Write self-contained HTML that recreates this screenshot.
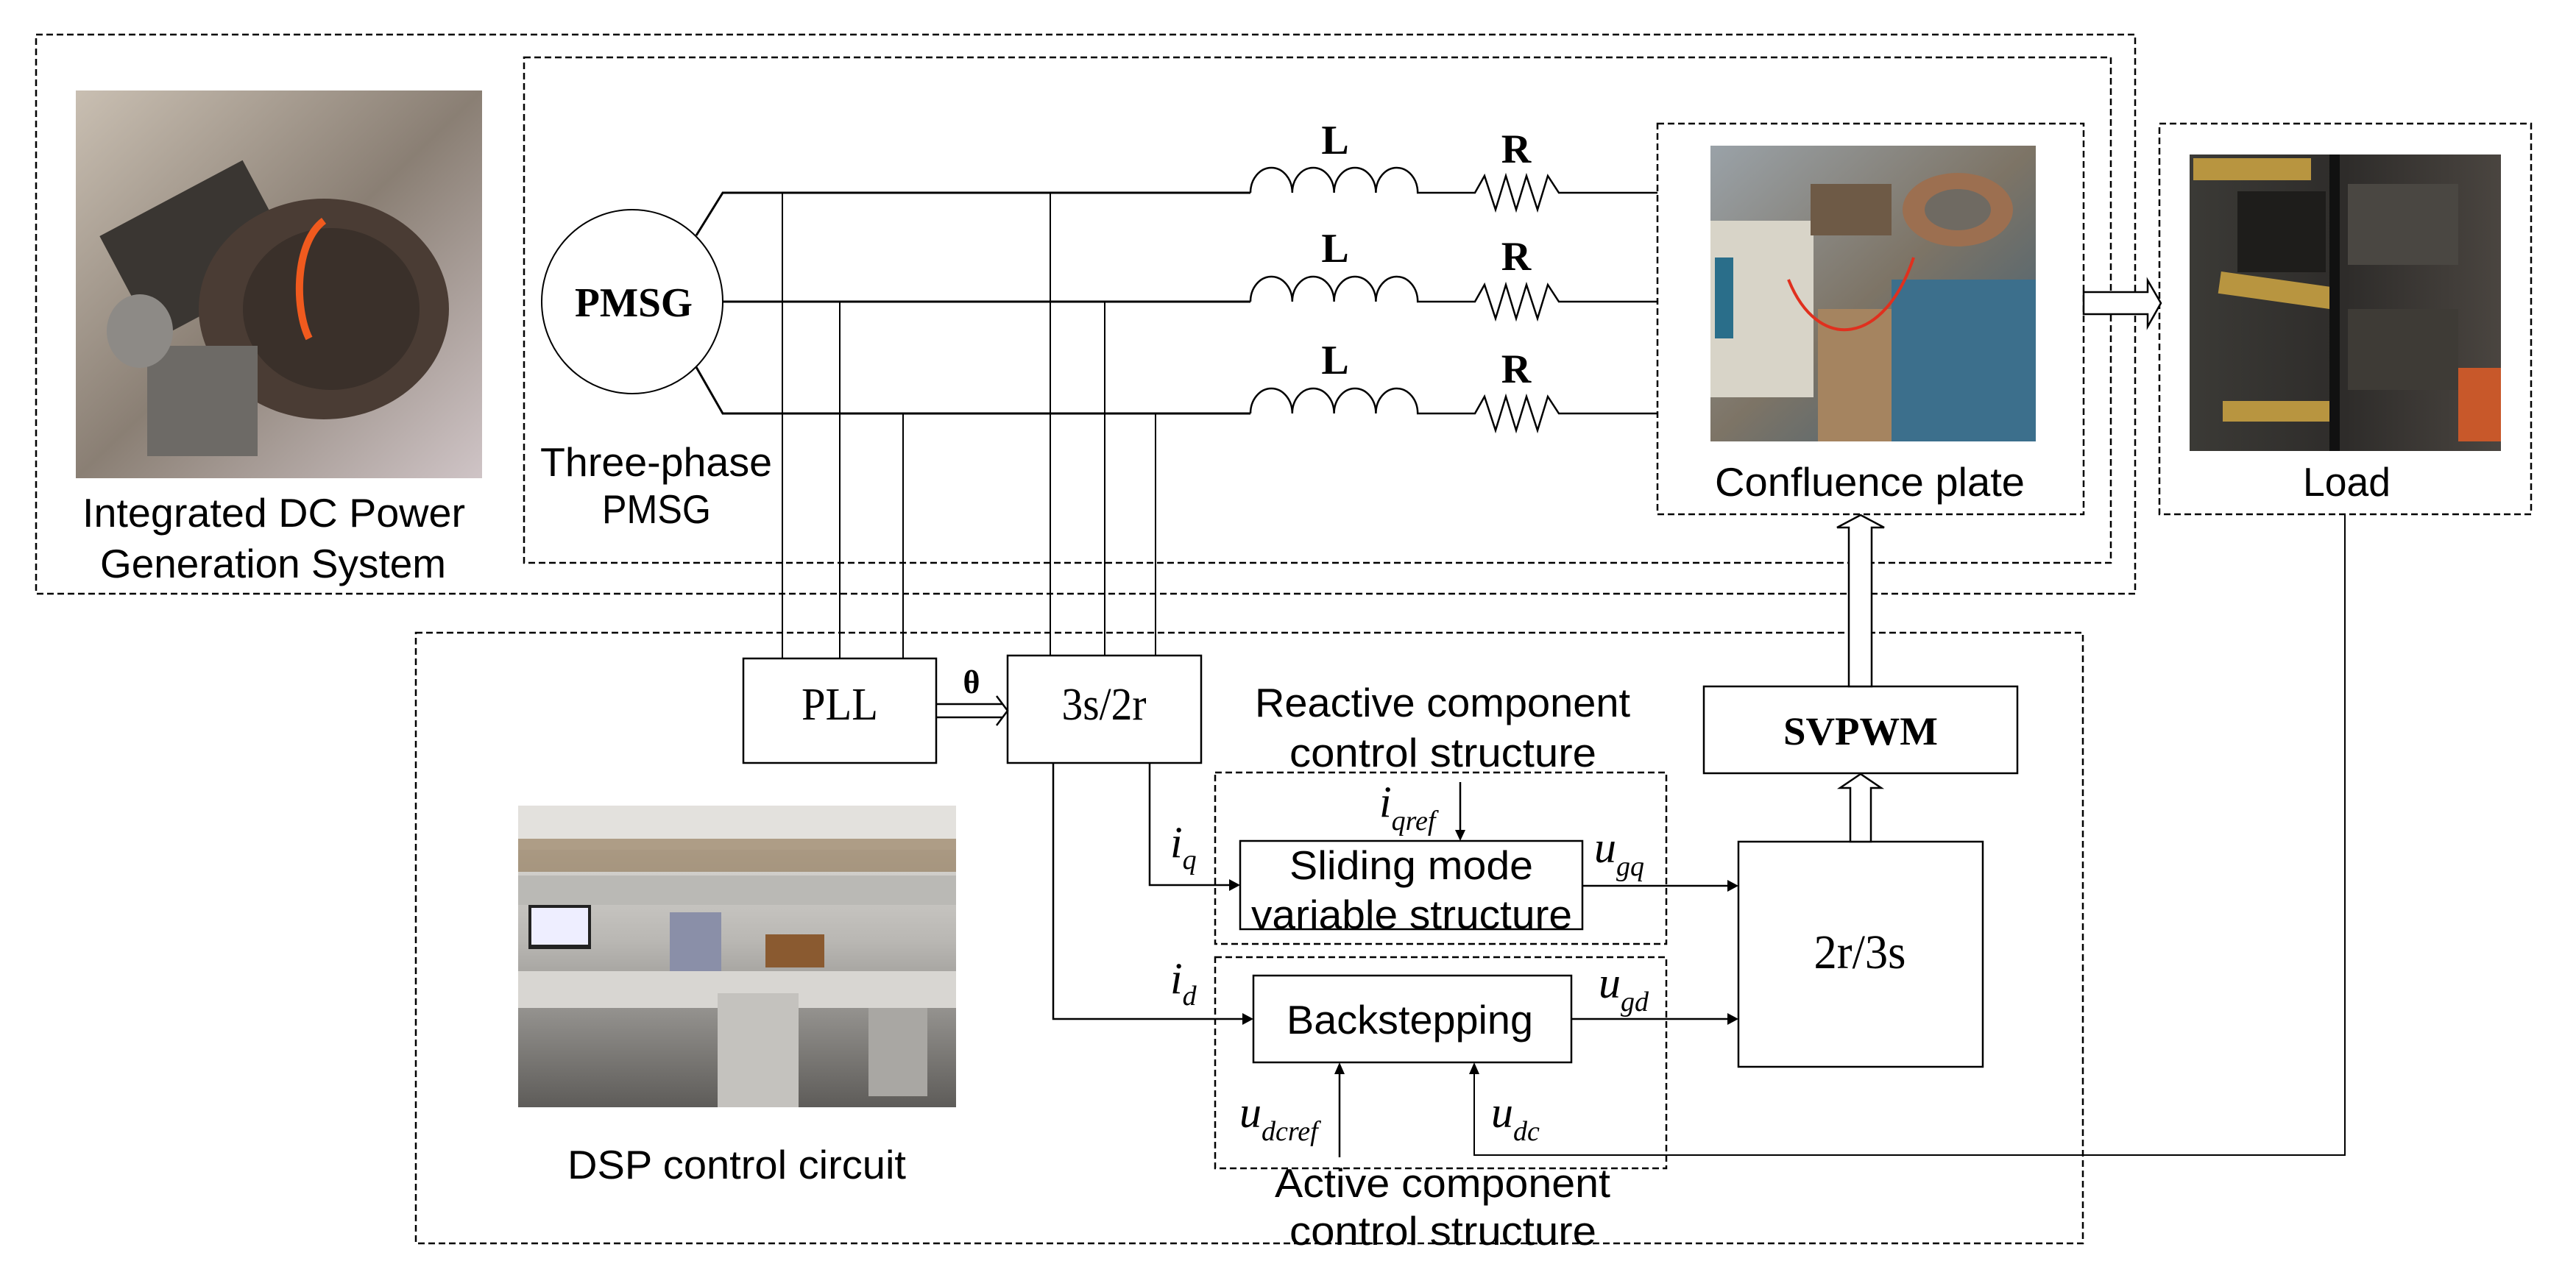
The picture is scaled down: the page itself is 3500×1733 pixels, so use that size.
<!DOCTYPE html>
<html><head><meta charset="utf-8"><style>
html,body{margin:0;padding:0;background:#fff;}
svg{display:block;}
.sans{font-family:"Liberation Sans",sans-serif;font-size:55px;fill:#000;}
.serif{font-family:"Liberation Serif",serif;fill:#000;}
.it{font-family:"Liberation Serif",serif;font-style:italic;fill:#000;}
</style></head><body>
<svg width="3500" height="1733" viewBox="0 0 3500 1733" xmlns="http://www.w3.org/2000/svg">
<defs>
<linearGradient id="eng" x1="0" y1="0" x2="1" y2="1">
<stop offset="0" stop-color="#c9bfb2"/><stop offset="0.5" stop-color="#8a7f74"/><stop offset="1" stop-color="#cfc4c6"/></linearGradient>
<linearGradient id="conf" x1="0" y1="0" x2="1" y2="1">
<stop offset="0" stop-color="#9aa2a8"/><stop offset="0.5" stop-color="#7d7466"/><stop offset="1" stop-color="#3a5e78"/></linearGradient>
<linearGradient id="load" x1="0" y1="0" x2="1" y2="0">
<stop offset="0" stop-color="#3b3a36"/><stop offset="0.5" stop-color="#2e2c2a"/><stop offset="1" stop-color="#4a4540"/></linearGradient>
<linearGradient id="dsp" x1="0" y1="0" x2="0" y2="1">
<stop offset="0" stop-color="#e6e4e0"/><stop offset="0.45" stop-color="#b9b7b3"/><stop offset="1" stop-color="#5e5c59"/></linearGradient>
</defs>

<g fill="none" stroke="#000" stroke-width="2.5" stroke-dasharray="9 5">
<rect x="49" y="47" width="2852" height="760"/>
<rect x="712" y="78" width="2156" height="687"/>
<rect x="2252" y="168" width="579" height="531"/>
<rect x="2934" y="168" width="505" height="531"/>
<rect x="565" y="860" width="2265" height="830"/>
<rect x="1651" y="1050" width="613" height="233"/>
<rect x="1651" y="1301" width="613" height="287"/>
</g>

<rect x="103" y="123" width="552" height="527" fill="url(#eng)"/>
<g>
<rect x="160" y="260" width="220" height="160" fill="#3a3632" transform="rotate(-28 270 340)"/>
<ellipse cx="440" cy="420" rx="170" ry="150" fill="#4a3c34"/>
<ellipse cx="450" cy="420" rx="120" ry="110" fill="#3a302a"/>
<path d="M440 300 C400 330 400 420 420 460" stroke="#f05a1e" stroke-width="10" fill="none"/>
<rect x="200" y="470" width="150" height="150" fill="#6d6a66"/>
<ellipse cx="190" cy="450" rx="45" ry="50" fill="#8d8a86"/>
</g>

<rect x="2324" y="198" width="442" height="402" fill="url(#conf)"/>
<g>
<rect x="2324" y="300" width="140" height="240" fill="#d8d4c8"/>
<rect x="2330" y="350" width="25" height="110" fill="#2a6e8a"/>
<ellipse cx="2660" cy="285" rx="75" ry="50" fill="#9c6f50"/>
<ellipse cx="2660" cy="285" rx="45" ry="28" fill="#6f6a62"/>
<rect x="2460" y="250" width="110" height="70" fill="#6e5a46"/>
<rect x="2570" y="380" width="196" height="220" fill="#3c6f8c"/>
<rect x="2470" y="420" width="100" height="180" fill="#a58460"/>
<path d="M2430 380 C2470 480 2560 470 2600 350" stroke="#e0301e" stroke-width="4" fill="none"/>
</g>

<rect x="2975" y="210" width="423" height="403" fill="url(#load)"/>
<g>
<rect x="2980" y="215" width="160" height="30" fill="#b89540"/>
<rect x="3015" y="380" width="160" height="30" fill="#b89540" transform="rotate(8 3095 395)"/>
<rect x="3020" y="545" width="150" height="28" fill="#b89540"/>
<rect x="3040" y="260" width="120" height="110" fill="#1e1d1b"/>
<rect x="3190" y="250" width="150" height="110" fill="#4a4742"/>
<rect x="3190" y="420" width="150" height="110" fill="#3e3b36"/>
<rect x="3340" y="500" width="58" height="100" fill="#c8582a"/>
<rect x="3165" y="210" width="14" height="403" fill="#111"/>
</g>

<rect x="704" y="1095" width="595" height="410" fill="url(#dsp)"/>
<g>
<rect x="704" y="1095" width="595" height="60" fill="#e3e1dd"/>
<rect x="704" y="1140" width="595" height="45" fill="#8a6f4c" opacity="0.6"/>
<rect x="704" y="1190" width="595" height="40" fill="#bab9b5"/>
<rect x="718" y="1230" width="85" height="60" fill="#222"/>
<rect x="722" y="1234" width="77" height="50" fill="#eef"/>
<rect x="910" y="1240" width="70" height="80" fill="#8a8fa8"/>
<rect x="1040" y="1270" width="80" height="45" fill="#8a5a30"/>
<rect x="704" y="1320" width="595" height="50" fill="#d8d6d2"/>
<rect x="975" y="1350" width="110" height="155" fill="#c4c2be"/>
<rect x="1180" y="1370" width="80" height="120" fill="#a9a7a3"/>
</g>

<ellipse cx="859" cy="410" rx="123" ry="125" fill="none" stroke="#000" stroke-width="2"/>
<text class="serif" x="861" y="430" font-size="56" font-weight="bold" text-anchor="middle" textLength="160" lengthAdjust="spacingAndGlyphs">PMSG</text>
<g fill="none" stroke="#000" stroke-width="3">
<polyline points="946,320 982,262 1699,262"/>
<polyline points="982,410 1699,410"/>
<polyline points="946,499 982,562 1699,562"/>
</g>
<g fill="none" stroke="#000" stroke-width="2.5">
<path id="lr" d="M1699,262 a28.4,34 0 0 1 56.8,0 a28.4,34 0 0 1 56.8,0 a28.4,34 0 0 1 56.8,0 a28.4,34 0 0 1 56.8,0 L2004,262 L2017,239 L2032,285 L2046,239 L2060,285 L2074,239 L2089,285 L2103,239 L2118,262 L2252,262"/>
<use href="#lr" y="148"/>
<use href="#lr" y="300"/>
</g>
<g class="serif" font-size="56" font-weight="bold" text-anchor="middle">
<text x="1814" y="209">L</text><text x="2060" y="221">R</text>
<text x="1814" y="356">L</text><text x="2060" y="367">R</text>
<text x="1814" y="508">L</text><text x="2060" y="520">R</text>
</g>

<g stroke="#000" stroke-width="2">
<line x1="1063" y1="262" x2="1063" y2="895"/>
<line x1="1141" y1="410" x2="1141" y2="895"/>
<line x1="1227" y1="562" x2="1227" y2="895"/>
<line x1="1427" y1="262" x2="1427" y2="891"/>
<line x1="1501" y1="410" x2="1501" y2="891"/>
<line x1="1570" y1="562" x2="1570" y2="891"/>
</g>

<g fill="#fff" stroke="#000" stroke-width="2.5">
<rect x="1010" y="895" width="262" height="142"/>
<rect x="1369" y="891" width="263" height="146"/>
<rect x="2315" y="933" width="426" height="118"/>
<rect x="2362" y="1144" width="332" height="306"/>
<rect x="1685" y="1143" width="465" height="120"/>
<rect x="1703" y="1326" width="432" height="118"/>
</g>
<text class="serif" x="1141" y="978" font-size="62" text-anchor="middle" textLength="104" lengthAdjust="spacingAndGlyphs">PLL</text>
<text class="serif" x="1500" y="978" font-size="62" text-anchor="middle" textLength="115" lengthAdjust="spacingAndGlyphs">3s/2r</text>
<text class="serif" x="2528" y="1012" font-size="54" font-weight="bold" text-anchor="middle" textLength="210" lengthAdjust="spacingAndGlyphs">SVPWM</text>
<text class="serif" x="2527" y="1316" font-size="66" text-anchor="middle" textLength="125" lengthAdjust="spacingAndGlyphs">2r/3s</text>

<g fill="none" stroke="#000" stroke-width="2.5">
<line x1="1272" y1="957" x2="1362" y2="957"/>
<line x1="1272" y1="975" x2="1362" y2="975"/>
<polyline points="1354,946 1369,966 1354,986"/>
</g>
<text class="serif" x="1320" y="942" font-size="44" font-weight="bold" text-anchor="middle">θ</text>

<g fill="#fff" stroke="#000" stroke-width="2.5">
<polygon points="2514,1144 2514,1071 2500,1071 2528,1052 2556,1071 2542,1071 2542,1144"/>
<polygon points="2512,933 2512,717 2496,717 2528,700 2560,717 2543,717 2543,933"/>
<polygon points="2831,397 2918,397 2918,381 2936,412 2918,444 2918,427 2831,427"/>
</g>

<g fill="none" stroke="#000" stroke-width="2.5">
<polyline points="1431,1037 1431,1385 1690,1385"/>
<polyline points="1562,1037 1562,1203 1672,1203"/>
<line x1="2150" y1="1204" x2="2350" y2="1204"/>
<line x1="2135" y1="1385" x2="2350" y2="1385"/>
<line x1="1984" y1="1063" x2="1984" y2="1131"/>
<line x1="1820" y1="1573" x2="1820" y2="1458"/>
<polyline points="3186,699 3186,1570 2003,1570 2003,1458" stroke-width="2"/>
</g>
<g fill="#000">
<polygon points="1703,1385 1688,1377 1688,1393"/>
<polygon points="1685,1203 1670,1195 1670,1211"/>
<polygon points="2362,1204 2347,1196 2347,1212"/>
<polygon points="2362,1385 2347,1377 2347,1393"/>
<polygon points="1984,1143 1977,1128 1991,1128"/>
<polygon points="1820,1444 1813,1460 1827,1460"/>
<polygon points="2003,1444 1996,1460 2010,1460"/>
</g>

<g class="it">
<text x="1590" y="1165" font-size="60">i<tspan font-size="38" dy="16">q</tspan></text>
<text x="1590" y="1350" font-size="60">i<tspan font-size="38" dy="16">d</tspan></text>
<text x="1874" y="1110" font-size="60">i<tspan font-size="38" dy="18">qref</tspan></text>
<text x="2166" y="1172" font-size="60">u<tspan font-size="38" dy="18">gq</tspan></text>
<text x="2172" y="1356" font-size="60">u<tspan font-size="38" dy="18">gd</tspan></text>
<text x="1684" y="1532" font-size="60">u<tspan font-size="38" dy="18">dcref</tspan></text>
<text x="2026" y="1532" font-size="60">u<tspan font-size="38" dy="18">dc</tspan></text>
</g>

<g class="sans">
<text x="112" y="716" textLength="520" lengthAdjust="spacingAndGlyphs">Integrated DC Power</text>
<text x="136" y="785" textLength="470" lengthAdjust="spacingAndGlyphs">Generation System</text>
<text x="734" y="647" textLength="315" lengthAdjust="spacingAndGlyphs">Three-phase</text>
<text x="818" y="711" textLength="148" lengthAdjust="spacingAndGlyphs">PMSG</text>
<text x="2330" y="674" textLength="421" lengthAdjust="spacingAndGlyphs">Confluence plate</text>
<text x="3129" y="674" textLength="119" lengthAdjust="spacingAndGlyphs">Load</text>
<text x="1705" y="974" textLength="510" lengthAdjust="spacingAndGlyphs">Reactive component</text>
<text x="1752" y="1042" textLength="417" lengthAdjust="spacingAndGlyphs">control structure</text>
<text x="1752" y="1195" textLength="331" lengthAdjust="spacingAndGlyphs">Sliding mode</text>
<text x="1700" y="1262" textLength="436" lengthAdjust="spacingAndGlyphs">variable structure</text>
<text x="1748" y="1405" textLength="335" lengthAdjust="spacingAndGlyphs">Backstepping</text>
<text x="1732" y="1627" textLength="456" lengthAdjust="spacingAndGlyphs">Active component</text>
<text x="1752" y="1692" textLength="417" lengthAdjust="spacingAndGlyphs">control structure</text>
<text x="771" y="1602" textLength="460" lengthAdjust="spacingAndGlyphs">DSP control circuit</text>
</g>
</svg>
</body></html>
